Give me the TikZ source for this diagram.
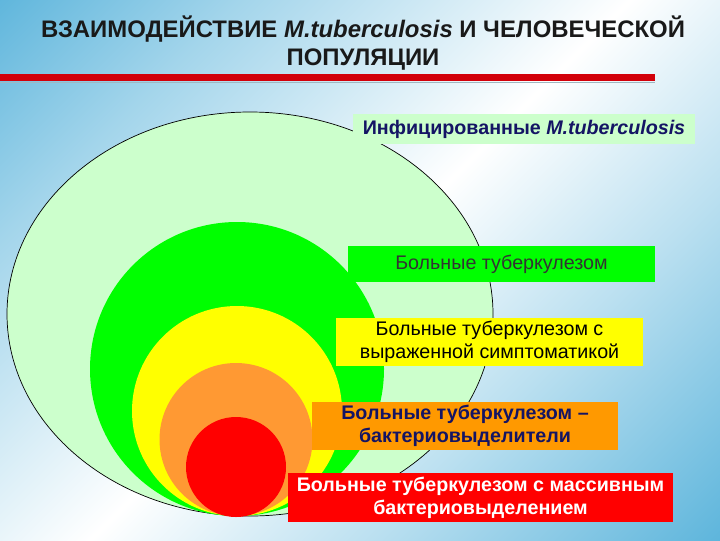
\documentclass[tikz,border=0pt]{standalone}
\usepackage{fontspec}
\setmainfont{Liberation Sans}
\usetikzlibrary{positioning}
\definecolor{bgBlue}{RGB}{25,150,205}
\definecolor{paleGreen}{RGB}{204,255,204}
\definecolor{brightGreen}{RGB}{0,255,0}
\definecolor{sunYellow}{RGB}{255,255,0}
\definecolor{lightOrange}{RGB}{255,153,51}
\definecolor{deepOrange}{RGB}{255,153,0}
\definecolor{pureRed}{RGB}{255,0,0}
\definecolor{inkNavy}{RGB}{20,20,100}
\definecolor{ruleRed}{RGB}{210,0,10}
\pgfdeclarehorizontalshading{slideBg}{100bp}{color(0bp)=(bgBlue); color(28bp)=(bgBlue!40!white); color(50bp)=(white); color(66bp)=(bgBlue!30!white); color(100bp)=(bgBlue)}
\tikzset{
  stagebox/.style={inner sep=0pt, align=center, font=\fontsize{14}{16.5}\selectfont},
}

\begin{document}
\begin{tikzpicture}[x=0.025cm,y=-0.025cm]
	\useasboundingbox (0,0) rectangle (720,540);
	\shade[shading=slideBg, shading angle=-45] (0,0) rectangle (720,540);% background
	\fill[ruleRed] (0,74) rectangle (655,80.5);
	\fill[bgBlue!30!gray!60] (0,81.5) rectangle (655,83);
	\node[align=center, text=black!90, font=\fontsize{17}{19.5}\selectfont\bfseries] (title) at (363,43)
		{ВЗАИМОДЕЙСТВИЕ \textit{M.tuberculosis} И ЧЕЛОВЕЧЕСКОЙ\\ПОПУЛЯЦИИ};
	% nested populations
	\draw[black, fill=paleGreen, line width=0.5pt] (250,314) ellipse (243 and 202);
	\fill[brightGreen] (237,369) circle (147);
	\fill[sunYellow] (237,411) circle (105);
	\fill[lightOrange] (236,439.5) circle (76.5);
	\fill[pureRed] (236,467) circle (50);
	% labels
	\node[stagebox, fill=paleGreen, text=inkNavy, font=\fontsize{14}{16.5}\selectfont\bfseries, minimum width=8.55cm, minimum height=0.75cm] (infected) at (524,129)
		{Инфицированные \textit{M.tuberculosis}};
	\node[stagebox, fill=brightGreen, text=black!80, minimum width=7.675cm, minimum height=0.9cm] (sick) at (501.5,264)
		{Больные туберкулезом};
	\node[stagebox, fill=sunYellow, text=black, minimum width=7.675cm, minimum height=1.2cm] (symptoms) at (489.5,342)
		{Больные туберкулезом с\\выраженной симптоматикой};
	\node[stagebox, fill=deepOrange, text=inkNavy, font=\fontsize{14}{16.5}\selectfont\bfseries, minimum width=7.65cm, minimum height=1.2cm] (shedding) at (465,426)
		{Больные туберкулезом --\\бактериовыделители};
	\node[stagebox, fill=pureRed, text=white, font=\fontsize{14}{16.5}\selectfont\bfseries, minimum width=9.625cm, minimum height=1.225cm] (massive) at (480.5,497.5)
		{Больные туберкулезом с массивным\\бактериовыделением};
\end{tikzpicture}
\end{document}
